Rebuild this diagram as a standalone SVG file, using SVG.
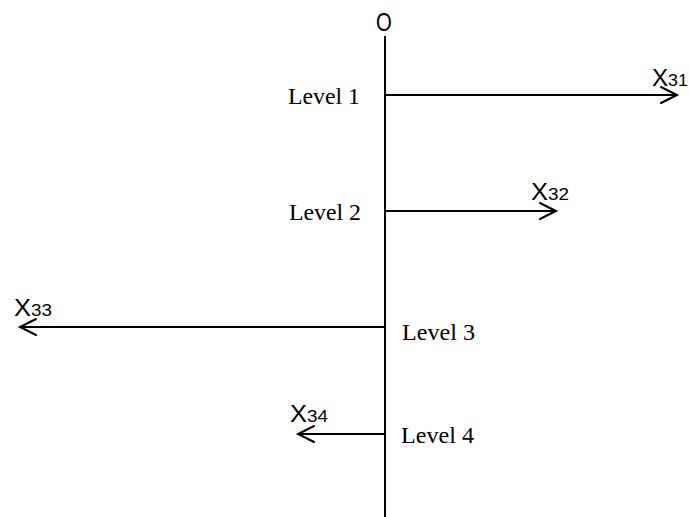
<svg xmlns="http://www.w3.org/2000/svg" width="689" height="517" viewBox="0 0 689 517">
<style>
.ln{stroke:#000;stroke-width:2;fill:none}
.hd{stroke:#000;stroke-width:2;fill:none;stroke-linecap:round;stroke-linejoin:miter}
.lv{font-family:"Liberation Sans",serif;font-family:"Liberation Serif",serif;font-size:23px;fill:#000}
.x{font-family:"Liberation Sans",sans-serif;font-size:23px;fill:#000}
.o{font-family:"Liberation Sans",sans-serif;font-size:26px;fill:#000}
.s{font-size:17px}
</style>
<rect width="689" height="517" fill="#fff"/>
<g id="connectors">
<line class="ln" x1="385" y1="36" x2="385" y2="517"/>
<line class="ln" x1="385" y1="95" x2="677" y2="95"/>
<polyline class="hd" points="661,87 677,95 661,103"/>
<line class="ln" x1="385" y1="211" x2="556" y2="211"/>
<polyline class="hd" points="540,203 556,211 540,219"/>
<line class="ln" x1="385" y1="327" x2="20" y2="327"/>
<polyline class="hd" points="36,319 20,327 36,335"/>
<line class="ln" x1="385" y1="434" x2="298" y2="434"/>
<polyline class="hd" points="314,426 298,434 314,442"/>
</g>
<g id="origin"><text class="o" x="0" y="31" text-anchor="middle" transform="translate(384,0) scale(0.78,1)">O</text></g>
<g id="level1"><text class="lv" x="288" y="104" textLength="72" lengthAdjust="spacingAndGlyphs">Level 1</text></g>
<g id="level2"><text class="lv" x="289" y="220" textLength="72" lengthAdjust="spacingAndGlyphs">Level 2</text></g>
<g id="level3"><text class="lv" x="402" y="340" textLength="73" lengthAdjust="spacingAndGlyphs">Level 3</text></g>
<g id="level4"><text class="lv" x="401" y="443" textLength="73" lengthAdjust="spacingAndGlyphs">Level 4</text></g>
<g id="x31"><text class="x" x="652" y="86" textLength="36" lengthAdjust="spacingAndGlyphs">X<tspan class="s">31</tspan></text></g>
<g id="x32"><text class="x" x="531" y="200" textLength="38" lengthAdjust="spacingAndGlyphs">X<tspan class="s">32</tspan></text></g>
<g id="x33"><text class="x" x="14" y="316" textLength="38" lengthAdjust="spacingAndGlyphs">X<tspan class="s">33</tspan></text></g>
<g id="x34"><text class="x" x="290" y="422" textLength="38" lengthAdjust="spacingAndGlyphs">X<tspan class="s">34</tspan></text></g>
</svg>
